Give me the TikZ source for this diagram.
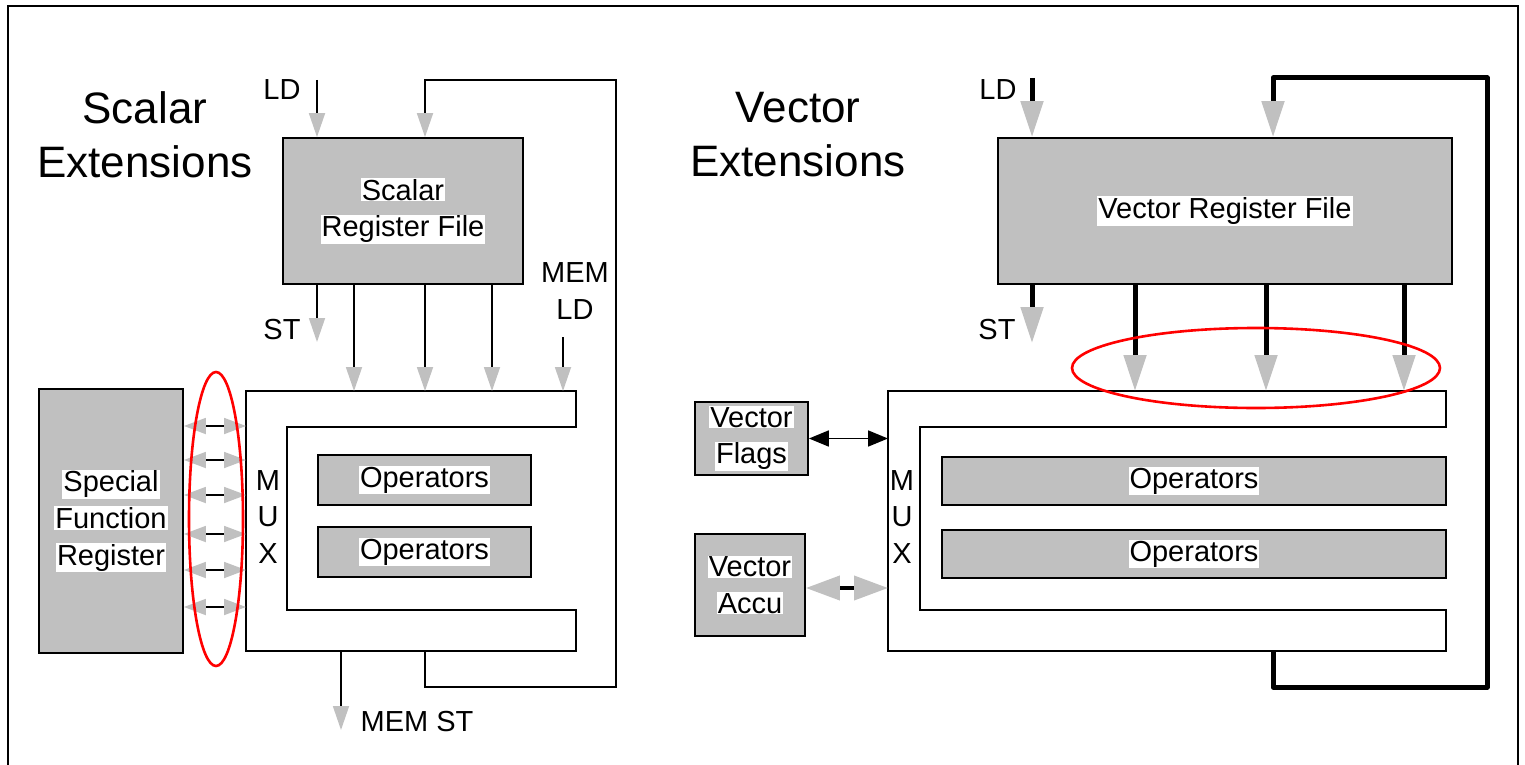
\documentclass[tikz,border=0pt]{standalone}
\usepackage{fontspec}
\setmainfont{Liberation Sans}
\usetikzlibrary{arrows.meta}
\definecolor{boxgray}{RGB}{192,192,192}
\newcommand{\wl}[1]{{\setlength{\fboxsep}{0.5pt}\colorbox{white}{#1}}}

\begin{document}
\begin{tikzpicture}[x=0.5pt,y=-0.5pt,
  lbl/.style={font=\fontsize{14.5}{18.3}\selectfont,align=center,inner sep=0pt},
  ttl/.style={font=\fontsize{22}{27}\selectfont,align=center,inner sep=0pt},
  regbox/.style={draw,fill=boxgray,line width=0.9pt,inner sep=0pt,align=center,font=\fontsize{14.5}{18.3}\selectfont},
  muxline/.style={line width=0.9pt},
  thinarr/.style={line width=0.9pt,-{Triangle[length=12pt,width=8pt,color=boxgray]}},
  thickarr/.style={line width=2.5pt,line join=round,-{Triangle[length=18pt,width=11pt,color=boxgray]}},
  sdbl/.style={line width=0.9pt,{Triangle[length=11pt,width=8pt,color=boxgray]}-{Triangle[length=11pt,width=8pt,color=boxgray]}},
  fdbl/.style={line width=0.9pt,{Triangle[length=10pt,width=8pt]}-{Triangle[length=10pt,width=8pt]}},
  adbl/.style={line width=2pt,{Triangle[length=17pt,width=12pt,color=boxgray]}-{Triangle[length=17pt,width=12pt,color=boxgray]}},
  hilite/.style={red,line width=1.3pt}]
  \useasboundingbox (0,0) rectangle (1525,765);
  \draw[line width=0.9pt] (8,765) -- (8,6) -- (1518,6) -- (1518,765);

  % scalar side
  \node[ttl] (sttl) at (145,135) {Scalar\\Extensions};
  \node[regbox,minimum width=120pt,minimum height=73pt] (srf) at (403,211) {\wl{Scalar}\\\wl{Register File}};
  \node[regbox,minimum width=72pt,minimum height=132pt] (sfr) at (111,521) {\wl{Special}\\\wl{Function}\\\wl{Register}};
  \node[regbox,minimum width=106.5pt,minimum height=25pt] (sop1) at (424.5,480) {\wl{Operators}};
  \node[regbox,minimum width=106.5pt,minimum height=25pt] (sop2) at (424.5,552) {\wl{Operators}};
  \coordinate (smux) at (246,391);
  \coordinate (smuxb) at (246,651);
  \draw[muxline] (smux) -- (576,391) -- (576,427) -- (287,427) -- (287,610) -- (576,610) -- (576,651) -- (smuxb) -- cycle;
  \node[lbl] (smuxl) at (268,517) {M\\U\\X};
  \node[lbl] (sld) at (282,90) {LD};
  \node[lbl] (sst) at (282,330) {ST};
  \node[lbl] (smemld) at (575,291) {MEM\\LD};
  \node[lbl] (smemst) at (417,722) {MEM ST};
  \coordinate (sldin) at (317,80);
  \coordinate (sstout) at (317,342);
  \coordinate (smemldin) at (563,337);
  \coordinate (smemstout) at (341,730);
  \draw[thinarr] (sldin) -- (srf.north -| sldin);
  \draw[thinarr] (srf.south -| sstout) -- (sstout);
  \foreach \xx in {354,425,492}
    \draw[thinarr] (srf.south -| \xx,0) -- (smux -| \xx,0);
  \draw[thinarr] (smemldin) -- (smux -| smemldin);
  \draw[thinarr] (smuxb -| 425,0) -- (425,687) -- (616,687) -- (616,80) -- (425,80) -- (srf.north -| 425,0);
  \draw[thinarr] (smuxb -| smemstout) -- (smemstout);
  \foreach \yy in {426,460,495,534,570,607}
    \draw[sdbl] (sfr.east |- 0,\yy) -- (smux |- 0,\yy);
  \draw[hilite] (216,519) ellipse [x radius=13.5pt,y radius=73.5pt];

  % vector side
  \node[ttl] (vttl) at (798,135) {Vector\\Extensions};
  \node[regbox,minimum width=227pt,minimum height=73pt] (vrf) at (1225,211) {\wl{Vector Register File}};
  \node[regbox,minimum width=252pt,minimum height=24pt] (vop1) at (1194,481) {\wl{Operators}};
  \node[regbox,minimum width=252pt,minimum height=24pt] (vop2) at (1194,554) {\wl{Operators}};
  \node[regbox,minimum width=56.5pt,minimum height=36.5pt] (vflags) at (751.5,438.5) {\wl{Vector}\\\wl{Flags}};
  \node[regbox,minimum width=55pt,minimum height=51pt] (vaccu) at (750,585) {\wl{Vector}\\\wl{Accu}};
  \coordinate (vmux) at (888,391);
  \coordinate (vmuxb) at (888,651);
  \draw[muxline] (vmux) -- (1446,391) -- (1446,427) -- (920,427) -- (920,610) -- (1446,610) -- (1446,651) -- (vmuxb) -- cycle;
  \node[lbl] (vmuxl) at (902,517) {M\\U\\X};
  \node[lbl] (vld) at (998,90) {LD};
  \node[lbl] (vst) at (997,330) {ST};
  \coordinate (vldin) at (1032,78);
  \coordinate (vstout) at (1032,343);
  \draw[thickarr] (vldin) -- (vrf.north -| vldin);
  \draw[thickarr] (vrf.south -| vstout) -- (vstout);
  \foreach \xx in {1135,1266,1404}
    \draw[thickarr] (vrf.south -| \xx,0) -- (vmux -| \xx,0);
  \draw[thickarr] (vmuxb -| 1273,0) -- (1273,687) -- (1487,687) -- (1487,78) -- (1273,78) -- (vrf.north -| 1273,0);
  \draw[fdbl] (vflags.east) -- (vmux |- vflags.east);
  \draw[adbl] (vaccu.east |- 0,588) -- (vmux |- 0,588);
  \draw[hilite] (1256,368) ellipse [x radius=92pt,y radius=20pt];
\end{tikzpicture}
\end{document}
